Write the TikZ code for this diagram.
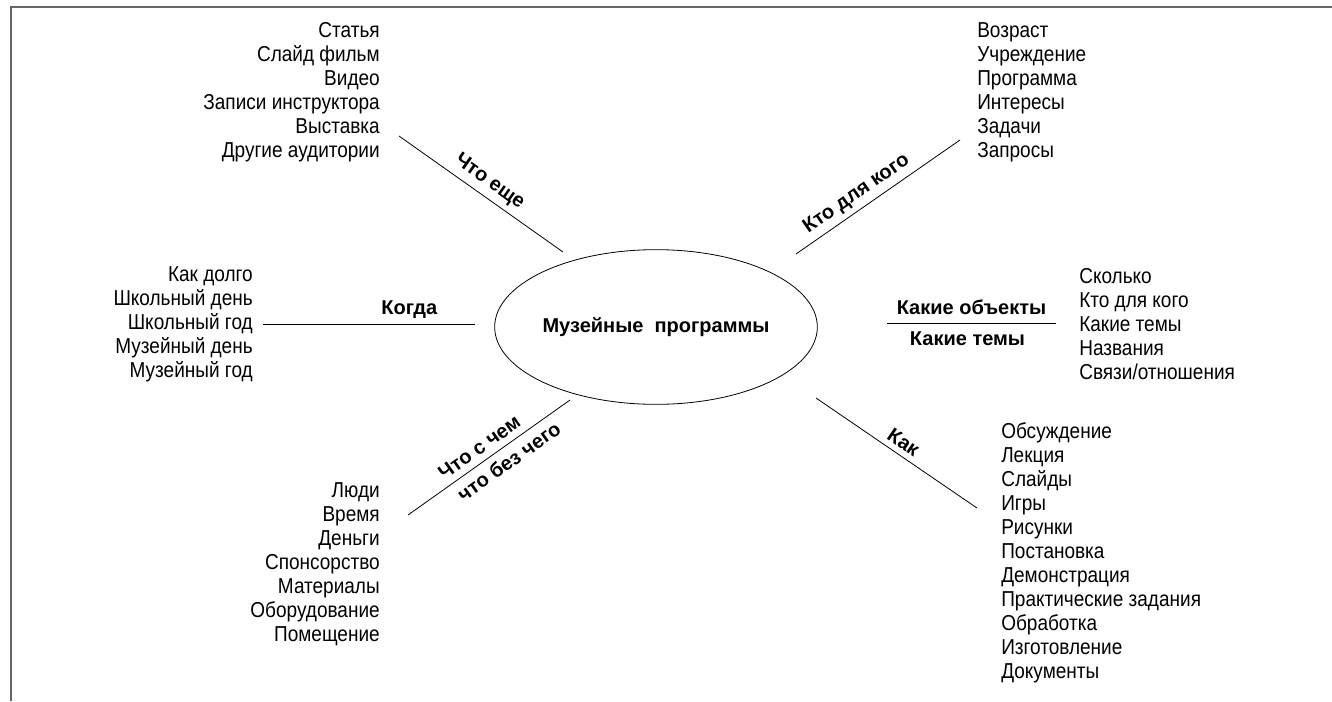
\documentclass[tikz,border=0pt]{standalone}
\usepackage{fontspec}
\setmainfont{Liberation Sans}[FakeStretch=0.88]
\newfontfamily\topicfamily{Liberation Sans}
\usetikzlibrary{shapes.geometric}
\newcommand{\itemfont}{\fontsize{16.2}{18}\selectfont}
\newcommand{\topicfont}{\topicfamily\fontsize{15}{18}\selectfont\bfseries}
\tikzstyle{hub}=[ellipse,draw,line width=0.6pt,minimum width=242pt,minimum height=116pt,inner sep=0pt,font=\topicfont]
\tikzstyle{spoke} = [draw,line width=0.6pt,-]
\tikzstyle{topic} = [font=\topicfont,inner sep=4pt]
\tikzstyle{items} = [font=\itemfont,inner sep=0pt]
\tikzstyle{frame} = [draw,line width=1.5pt,black!60]

\begin{document}
\begin{tikzpicture}[x=0.75pt,y=-0.75pt]
        \useasboundingbox (0,0) rectangle (1332,701);
        \draw[frame] (11,701) -- (11,7) -- (1332,7);

        \node[hub] (museum) at (656,327) {Музейные\ \ программы};

        % lists
        \node[items,anchor=east,align=right] (extra) at (380,92)
            {Статья\\Слайд фильм\\Видео\\Записи инструктора\\Выставка\\Другие аудитории};
        \node[items,anchor=west,align=left] (whom) at (977,92)
            {Возраст\\Учреждение\\Программа\\Интересы\\Задачи\\Запросы};
        \node[items,anchor=east,align=right] (when) at (253,324)
            {Как долго\\Школьный день\\Школьный год\\Музейный день\\Музейный год};
        \node[items,anchor=west,align=left] (objects) at (1079,324)
            {Сколько\\Кто для кого\\Какие темы\\Названия\\Связи/отношения};
        \node[items,anchor=east,align=right] (means) at (380,564)
            {Люди\\Время\\Деньги\\Спонсорство\\Материалы\\Оборудование\\Помещение};
        \node[items,anchor=west,align=left] (how) at (1001,553)
            {Обсуждение\\Лекция\\Слайды\\Игры\\Рисунки\\Постановка\\Демонстрация\\Практические задания\\Обработка\\Изготовление\\Документы};

        % spoke ends
        \coordinate (nw1) at (399,136); \coordinate (nw2) at (563,252);
        \coordinate (ne1) at (796,254); \coordinate (ne2) at (960,140);
        \coordinate (w1) at (263,324);  \coordinate (w2) at (475,324);
        \coordinate (e1) at (887,323);  \coordinate (e2) at (1056,323);
        \coordinate (se1) at (816,398); \coordinate (se2) at (977,508);
        \coordinate (sw1) at (408,515); \coordinate (sw2) at (570,400);

        \path[spoke] (nw1) -- node[topic,sloped,above] {Что еще} (nw2);
        \path[spoke] (ne1) -- node[topic,sloped,above,pos=0.42] {Кто для кого} (ne2);
        \path[spoke] (w1) -- node[topic,above,pos=0.69] {Когда} (w2);
        \path[spoke] (e1) -- node[topic,above,inner sep=6pt] {Какие объекты}
            node[topic,below,inner sep=6pt,xshift=-3] {Какие темы} (e2);
        \path[spoke] (se1) -- node[topic,sloped,above,pos=0.5] {Как} (se2);
        \path[spoke] (sw1) -- node[topic,sloped,above,pos=0.49,inner sep=5pt] {Что с чем}
            node[topic,sloped,below,pos=0.57,inner sep=5pt] {что без чего} (sw2);
    \end{tikzpicture}
\end{document}
